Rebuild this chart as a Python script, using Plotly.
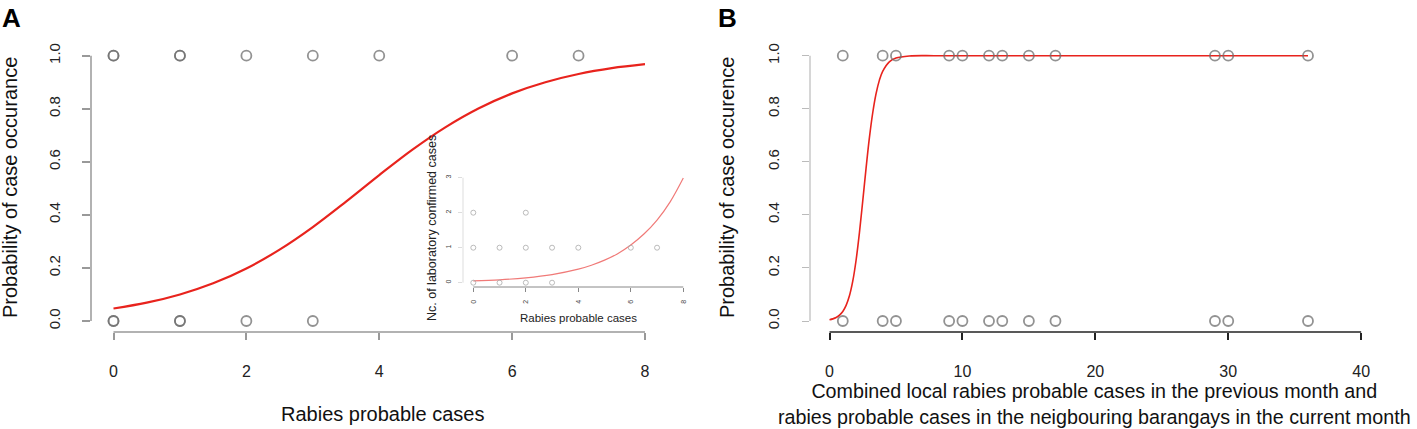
import plotly.graph_objects as go

W, H = 1417, 429

# ---------------- Data ----------------
# Panel A: observations (presence 0/1) vs rabies probable cases
a_pts_x = [0, 0, 1, 1, 2, 3, 4, 6, 7, 0, 0, 1, 1, 2, 3]
a_pts_y = [1, 1, 1, 1, 1, 1, 1, 1, 1, 0, 0, 0, 0, 0, 0]
# Panel A fitted logistic curve
a_curve_x = [0, 0.5, 1, 1.5, 2, 2.5, 3, 3.5, 4, 4.5, 5, 5.5, 6, 6.5, 7, 7.5, 8]
a_curve_y = [0.047, 0.069, 0.100, 0.142, 0.198, 0.269, 0.354, 0.450, 0.550,
             0.646, 0.731, 0.802, 0.858, 0.900, 0.931, 0.953, 0.968]

# Inset: laboratory confirmed cases vs rabies probable cases
in_pts_x = [0, 2, 0, 1, 2, 3, 4, 6, 7, 0, 1, 2, 3]
in_pts_y = [2, 2, 1, 1, 1, 1, 1, 1, 1, 0, 0, 0, 0]
in_curve_x = [0, 1, 2, 3, 4, 4.5, 5, 5.5, 6, 6.5, 7, 7.5, 8]
in_curve_y = [0.05, 0.083, 0.139, 0.232, 0.387, 0.50, 0.645, 0.83, 1.077, 1.39, 1.79, 2.31, 2.99]

# Panel B: observations vs combined cases
b_x_vals = [1, 4, 5, 9, 10, 12, 13, 15, 17, 29, 30, 36]
b_pts_x = b_x_vals + b_x_vals
b_pts_y = [1] * len(b_x_vals) + [0] * len(b_x_vals)
b_curve_x = [0, 0.25, 0.5, 0.75, 1, 1.25, 1.5, 1.75, 2, 2.25, 2.5, 2.75, 3, 3.25,
             3.5, 3.75, 4, 4.5, 5, 6, 8, 12, 20, 30, 36]
b_curve_y = [0.005, 0.008, 0.013, 0.022, 0.036, 0.059, 0.095, 0.150, 0.229, 0.332,
             0.452, 0.575, 0.690, 0.784, 0.856, 0.907, 0.941, 0.977, 0.991, 0.999,
             1.0, 1.0, 1.0, 1.0, 1.0]

a_xticks = [0, 2, 4, 6, 8]
a_yticks = [0.0, 0.2, 0.4, 0.6, 0.8, 1.0]
b_xticks = [0, 10, 20, 30, 40]
in_xticks = [0, 2, 4, 6, 8]
in_yticks = [0, 1, 2, 3]

a_xlabel = "Rabies probable cases"
a_ylabel = "Probability of case occurance"
b_xlabel = ("Combined local rabies probable cases in the previous month and<br>"
            "rabies probable cases in the neigbouring barangays in the current month")
b_ylabel = "Probability of case occurence"
in_xlabel = "Rabies probable cases"
in_ylabel = "Nc. of laboratory confirmed cases"

FONT = "Liberation Sans, Arial, sans-serif"
RED = "#e8231d"
PT_GRAY = "rgba(110,110,110,0.75)"

fig = go.Figure()

# Panel A
fig.add_trace(go.Scatter(x=a_curve_x, y=a_curve_y, mode="lines", line=dict(color=RED, width=2.2, shape="spline"),
                         xaxis="x", yaxis="y", showlegend=False, hoverinfo="skip"))
fig.add_trace(go.Scatter(x=a_pts_x, y=a_pts_y, mode="markers",
                         marker=dict(symbol="circle-open", size=10, color=PT_GRAY, line=dict(width=1.8, color=PT_GRAY)),
                         xaxis="x", yaxis="y", showlegend=False))

# Inset
fig.add_trace(go.Scatter(x=in_curve_x, y=in_curve_y, mode="lines", line=dict(color="#f07a78", width=1.2, shape="spline"),
                         xaxis="x3", yaxis="y3", showlegend=False, hoverinfo="skip"))
fig.add_trace(go.Scatter(x=in_pts_x, y=in_pts_y, mode="markers",
                         marker=dict(symbol="circle-open", size=5, color="#aaaaaa", line=dict(width=0.8, color="#aaaaaa")),
                         xaxis="x3", yaxis="y3", showlegend=False))

# Panel B
fig.add_trace(go.Scatter(x=b_curve_x, y=b_curve_y, mode="lines", line=dict(color=RED, width=1.6, shape="spline"),
                         xaxis="x2", yaxis="y2", showlegend=False, hoverinfo="skip"))
fig.add_trace(go.Scatter(x=b_pts_x, y=b_pts_y, mode="markers",
                         marker=dict(symbol="circle-open", size=10, color=PT_GRAY, line=dict(width=1.8, color=PT_GRAY)),
                         xaxis="x2", yaxis="y2", showlegend=False))


def px_x(p):
    return p / W


def px_y(p):
    return 1 - p / H


# Axis geometry (pixel-based domains)
a_xdom = [px_x(91), px_x(691)]
a_ydom = [px_y(332), px_y(35)]
a_xsc = (645 - 113.5) / 8
a_xr = [(91 - 113.5) / a_xsc, 8 + (691 - 645) / a_xsc]
a_ysc = 321 - 55.7
a_yr = [-(332 - 321) / a_ysc, 1 + (55.7 - 35) / a_ysc]

b_xdom = [px_x(810), px_x(1374)]
b_ydom = a_ydom
b_sc = (1308 - 829.5) / 36
b_xr = [(810 - 829.5) / b_sc, (1374 - 829.5) / b_sc]
b_yr = a_yr

in_xdom = [px_x(463), px_x(685)]
in_ydom = [px_y(287), px_y(175)]
in_sc = (683.3 - 473.3) / 8
in_xr = [(463 - 473.3) / in_sc, 8 + (685 - 683.3) / in_sc]
in_ysc = (282.7 - 177.7) / 3
in_yr = [-(287 - 282.7) / in_ysc, 3 + (177.7 - 175) / in_ysc]

xtickfont = dict(family=FONT, size=16, color="#222")
ytickfont = dict(family=FONT, size=15, color="#222")
TITLE_SIZE = 20

common = dict(showgrid=False, zeroline=False, showline=False, ticks="outside", automargin=False)

fig.update_layout(
    width=W, height=H, margin=dict(l=0, r=0, t=0, b=0),
    paper_bgcolor="white", plot_bgcolor="rgba(0,0,0,0)",
    xaxis=dict(domain=a_xdom, range=a_xr, anchor="y", tickvals=a_xticks, ticktext=[str(v) for v in a_xticks],
               ticklen=7, tickwidth=1.5, tickcolor="#999", tickfont=xtickfont, ticklabelstandoff=18, **common),
    yaxis=dict(domain=a_ydom, range=a_yr, anchor="x", tickvals=a_yticks, ticktext=[f"{v:.1f}" for v in a_yticks],
               tickangle=-90, ticklen=8, tickwidth=1.5, tickcolor="#999", tickfont=ytickfont,
               ticklabelstandoff=16, **common),
    xaxis2=dict(domain=b_xdom, range=b_xr, anchor="y2", tickvals=b_xticks, ticktext=[str(v) for v in b_xticks],
                ticklen=7, tickwidth=1.5, tickcolor="#222", tickfont=xtickfont, ticklabelstandoff=18, **common),
    yaxis2=dict(domain=b_ydom, range=b_yr, anchor="x2", tickvals=a_yticks, ticktext=[f"{v:.1f}" for v in a_yticks],
                tickangle=-90, ticklen=7, tickwidth=1.2, tickcolor="#bbb", tickfont=ytickfont,
                ticklabelstandoff=17, **common),
    xaxis3=dict(domain=in_xdom, range=in_xr, anchor="y3", tickvals=in_xticks, ticktext=[str(v) for v in in_xticks],
                tickangle=-90, ticklen=4, tickwidth=1, tickcolor="#888",
                tickfont=dict(family=FONT, size=7, color="#444"), ticklabelstandoff=5, **common),
    yaxis3=dict(domain=in_ydom, range=in_yr, anchor="x3", tickvals=in_yticks, ticktext=[str(v) for v in in_yticks],
                tickangle=-90, ticklen=4, tickwidth=1, tickcolor="#ddd",
                tickfont=dict(family=FONT, size=7, color="#444"), ticklabelstandoff=4, **common),
)

# R-style axis lines spanning only the tick range
shapes = [
    dict(type="line", xref="x", yref="y domain", x0=a_xticks[0], x1=a_xticks[-1], y0=0, y1=0,
         line=dict(color="#999", width=1.5)),
    dict(type="line", xref="x domain", yref="y", x0=0, x1=0, y0=a_yticks[0], y1=a_yticks[-1],
         line=dict(color="#999", width=1.5)),
    dict(type="line", xref="x2", yref="y2 domain", x0=b_xticks[0], x1=b_xticks[-1], y0=0, y1=0,
         line=dict(color="#222", width=1.5)),
    dict(type="line", xref="x2 domain", yref="y2", x0=0, x1=0, y0=a_yticks[0], y1=a_yticks[-1],
         line=dict(color="#bbb", width=1.2)),
    dict(type="line", xref="x3", yref="y3 domain", x0=in_xticks[0], x1=in_xticks[-1], y0=0, y1=0,
         line=dict(color="#888", width=1)),
    dict(type="line", xref="x3 domain", yref="y3", x0=0, x1=0, y0=in_yticks[0], y1=in_yticks[-1],
         line=dict(color="#ddd", width=1)),
]
fig.update_layout(shapes=shapes)


def label(text, cx, cy, size, angle=0, bold=False, color="#111"):
    fig.add_annotation(text=f"<b>{text}</b>" if bold else text, x=px_x(cx), y=px_y(cy), xref="paper", yref="paper",
                       xanchor="center", yanchor="middle", showarrow=False, textangle=angle,
                       font=dict(family=FONT, size=size, color=color))


# Axis titles
label(a_xlabel, 382, 414, TITLE_SIZE)
label(a_ylabel, 10, 188, TITLE_SIZE, angle=-90)
label(b_xlabel, 1094, 404, 19.7)
label(b_ylabel, 727, 188, TITLE_SIZE, angle=-90)
label(in_xlabel, 578, 318, 11.5, color="#222")
label(in_ylabel, 432, 228, 12.5, angle=-90, color="#222")

# Panel letters
fig.add_annotation(text="<b>A</b>", x=0, y=px_y(1), xref="paper", yref="paper", xanchor="left", yanchor="top",
                   showarrow=False, font=dict(family=FONT, size=26, color="black"))
fig.add_annotation(text="<b>B</b>", x=px_x(716), y=px_y(1), xref="paper", yref="paper", xanchor="left",
                   yanchor="top", showarrow=False, font=dict(family=FONT, size=26, color="black"))

fig.write_html("out.html", config={"displayModeBar": False})

# remove the default page margin so the figure sits at the window's top-left corner
with open("out.html", "r", encoding="utf-8") as f:
    html = f.read()
html = html.replace("<body>", '<body style="margin:0;padding:0;overflow:hidden">', 1)
with open("out.html", "w", encoding="utf-8") as f:
    f.write(html)
